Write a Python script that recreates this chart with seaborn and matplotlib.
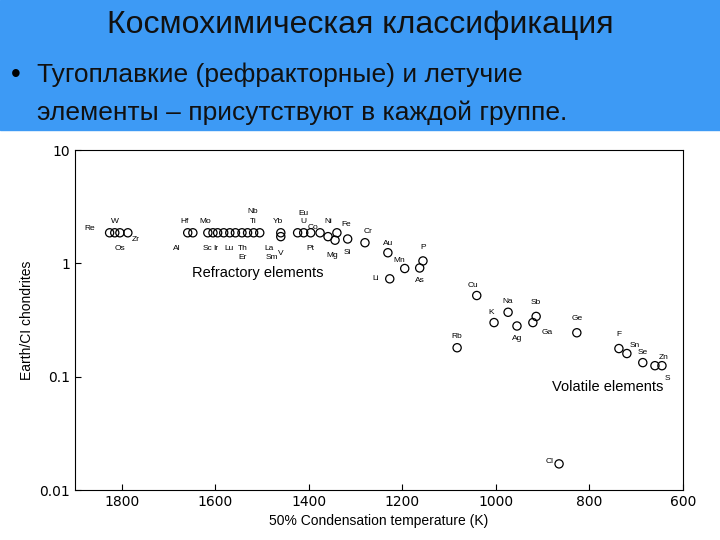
import matplotlib
matplotlib.use("Agg")
import matplotlib.pyplot as plt
import seaborn as sns
import pandas as pd
from matplotlib.ticker import FixedLocator, NullLocator

elements = ["Re","W","Os","Zr","Al","Hf","Mo","Sc","Ir","Lu","Th","Er","Nb","Ti","La","Sm",
            "Yb","V","U","Eu","Pt","Co","Ni","Fe","Mg","Si","Cr","Au","Li","Mn","P","As",
            "Cu","Na","K","Ag","Sb","Ga","Ge","Rb","F","Sn","Se","Zn","S","Cl"]
temps = [1826,1815,1804,1787,1659,1648,1616,1605,1595,1582,1569,1557,1543,1531,1518,1505,
         1460,1460,1424,1411,1396,1376,1359,1340,1344,1317,1280,1231,1227,1195,1156,1163,
         1041,974,1004,955,914,921,827,1083,737,720,686,660,645,865]
ratios = [1.86,1.86,1.86,1.86,1.86,1.86,1.86,1.86,1.86,1.86,1.86,1.86,1.86,1.86,1.86,1.86,
          1.86,1.72,1.86,1.86,1.86,1.86,1.72,1.86,1.60,1.64,1.52,1.24,0.73,0.90,1.05,0.91,
          0.52,0.37,0.30,0.28,0.34,0.30,0.244,0.18,0.177,0.16,0.133,0.125,0.125,0.017]
x_ticks = [1800,1600,1400,1200,1000,800,600]
y_ticks = [0.01,0.1,1,10]
y_tick_labels = ["0.01","0.1","1","10"]

# label offsets in points (styling)
offsets = {"Re":(-14,3),"W":(0,8),"Os":(0,-11),"Zr":(6,-5),"Al":(-8,-11),"Hf":(-6,8),
           "Mo":(-2,8),"Sc":(-4,-11),"Ir":(-1,-11),"Lu":(4,-11),"Th":(9,-11),"Er":(5,-18),
           "Nb":(8,15),"Ti":(4,8),"La":(11,-11),"Sm":(9,-18),"Yb":(-2,8),"V":(0,-12),
           "U":(4,8),"Eu":(0,14),"Pt":(0,-11),"Co":(-5,4),"Ni":(0,11),"Fe":(7,6),
           "Mg":(-2,-11),"Si":(0,-10),"Cr":(2,8),"Au":(0,7),"Li":(-10,0),"Mn":(-4,6),
           "P":(0,10),"As":(0,-9),"Cu":(-3,7),"Na":(0,8),"K":(-2,7),"Ag":(0,-9),
           "Sb":(0,10),"Ga":(10,-7),"Ge":(0,10),"Rb":(0,8),"F":(0,10),"Sn":(6,6),
           "Se":(0,7),"Zn":(6,6),"S":(4,-9),"Cl":(-7,2)}

df = pd.DataFrame({"el": elements, "T": temps, "r": ratios})

fig = plt.figure(figsize=(7.2, 5.4), dpi=100)
fig.patch.set_facecolor("white")
fig.add_artist(plt.Rectangle((0, 1-130/540), 1, 130/540, transform=fig.transFigure,
                             color="#3d9af5", zorder=0))
fig.text(0.5, 1-25/540, "Космохимическая классификация", ha="center", va="center",
         fontsize=23, family="Liberation Sans", color="#111111")
fig.text(0.015, 1-75/540, "•", ha="left", va="center", fontsize=20, family="Liberation Sans")
fig.text(0.052, 1-75/540, "Тугоплавкие (рефракторные) и летучие", ha="left", va="center",
         fontsize=19, family="Liberation Sans", color="#111111")
fig.text(0.052, 1-113/540, "элементы – присутствуют в каждой группе.", ha="left", va="center",
         fontsize=19, family="Liberation Sans", color="#111111")

ax = fig.add_axes([75/720, 50/540, 608/720, 340/540])
sns.scatterplot(data=df, x="T", y="r", ax=ax, marker="o", s=35, facecolor="none",
                edgecolor="black", linewidth=0.9, legend=False)
ax.set_yscale("log")
ax.set_xlim(1900, 600)
ax.set_ylim(0.01, 10)
ax.xaxis.set_major_locator(FixedLocator(x_ticks))
ax.yaxis.set_major_locator(FixedLocator(y_ticks))
ax.yaxis.set_minor_locator(NullLocator())
ax.set_yticklabels(y_tick_labels)
ax.tick_params(labelsize=10, direction="in", length=4)
ax.set_xlabel("50% Condensation temperature (K)", fontsize=10, family="Liberation Sans")
ax.set_ylabel("Earth/CI chondrites", fontsize=10, family="Liberation Sans")
for e, t, r in zip(elements, temps, ratios):
    dx, dy = offsets[e]
    ax.annotate(e, (t, r), xytext=(dx, dy), textcoords="offset points", fontsize=6,
                ha="center", va="center", family="Liberation Sans")
ax.text(1510, 0.75, "Refractory elements", fontsize=10.5, ha="center", family="Liberation Sans")
ax.text(760, 0.075, "Volatile elements", fontsize=10.5, ha="center", family="Liberation Sans")
fig.savefig("out.png", dpi=100)
